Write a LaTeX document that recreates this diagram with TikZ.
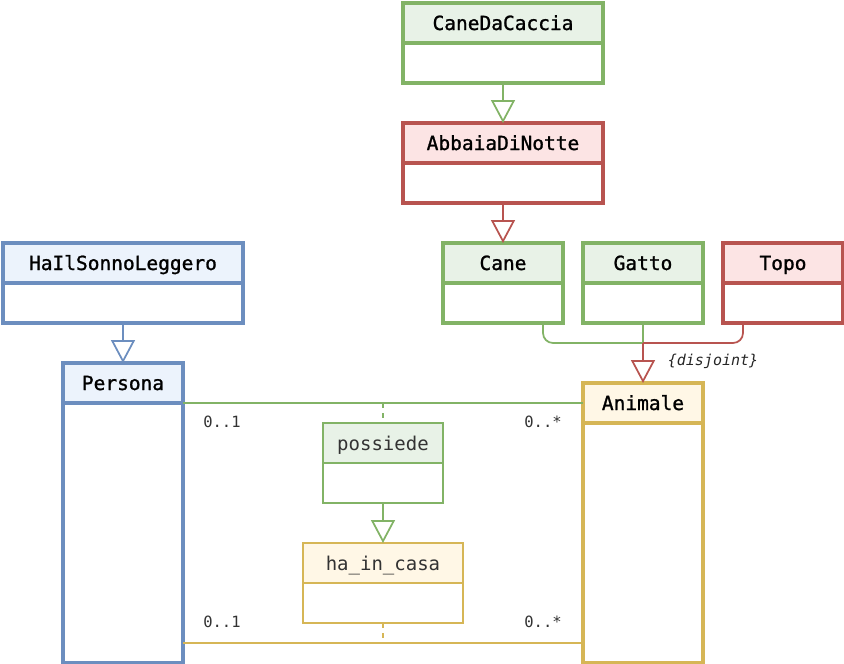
\documentclass[tikz,border=0pt]{standalone}
\usepackage{fontspec}
\setmonofont{DejaVu Sans Mono}
\newfontfamily\clsfont{DejaVu Sans Mono}[FakeBold=1.2]
\usepackage{tikz}
\usetikzlibrary{positioning,arrows.meta}

\definecolor{grn}{HTML}{82B366}
\definecolor{grnfill}{HTML}{E8F2E7}
\definecolor{rd}{HTML}{B85450}
\definecolor{rdfill}{HTML}{FCE4E4}
\definecolor{blu}{HTML}{6C8EBF}
\definecolor{blufill}{HTML}{ECF3FC}
\definecolor{ylw}{HTML}{D6B656}
\definecolor{ylwfill}{HTML}{FFF7E6}

\tikzset{
  cls/.style={draw=#1, fill=#1fill, line width=3.5pt, minimum height=40pt,
    inner sep=0pt, outer sep=0pt, text=black, text height=14pt, text depth=0pt,
    font=\clsfont\fontsize{19.5}{22}\selectfont},
  clsbody/.style={draw=#1, fill=white, line width=3.5pt, minimum height=40pt,
    inner sep=0pt, outer sep=0pt},
  rel/.style={cls=#1, line width=2pt, text=black!80,
    font=\ttfamily\fontsize{19}{22}\selectfont},
  relbody/.style={clsbody=#1, line width=2pt},
  link/.style={draw=#1, line width=1.75pt},
  isa/.style={link=#1, -{Triangle[open,length=23pt,width=24pt]}},
  mult/.style={font=\ttfamily\fontsize{15.5}{17}\selectfont, text=black!80}
}

\begin{document}
\begin{tikzpicture}[x=1pt,y=-1pt]
  \useasboundingbox (0,0) rectangle (844,664);

  % classes
  \node[cls=grn, minimum width=200pt] (caccia) at (503,23) {CaneDaCaccia};
  \node[clsbody=grn, minimum width=200pt, below=0pt of caccia] (cacciab) {};
  \node[cls=rd, minimum width=200pt] (abbaia) at (503,143) {AbbaiaDiNotte};
  \node[clsbody=rd, minimum width=200pt, below=0pt of abbaia] (abbaiab) {};
  \node[cls=blu, minimum width=240pt] (sonno) at (123,263) {HaIlSonnoLeggero};
  \node[clsbody=blu, minimum width=240pt, below=0pt of sonno] (sonnob) {};
  \node[cls=grn, minimum width=120pt] (cane) at (503,263) {Cane};
  \node[clsbody=grn, minimum width=120pt, below=0pt of cane] (caneb) {};
  \node[cls=grn, minimum width=120pt] (gatto) at (643,263) {Gatto};
  \node[clsbody=grn, minimum width=120pt, below=0pt of gatto] (gattob) {};
  \node[cls=rd, minimum width=120pt] (topo) at (783,263) {Topo};
  \node[clsbody=rd, minimum width=120pt, below=0pt of topo] (topob) {};
  \node[cls=blu, minimum width=120pt] (persona) at (123,383) {Persona};
  \node[clsbody=blu, minimum width=120pt, minimum height=260pt, below=0pt of persona] (personab) {};
  \node[cls=ylw, minimum width=120pt] (animale) at (643,403) {Animale};
  \node[clsbody=ylw, minimum width=120pt, minimum height=240pt, below=0pt of animale] (animaleb) {};

  % association classes
  \node[rel=grn, minimum width=120pt] (possiede) at (383,443) {possiede};
  \node[relbody=grn, minimum width=120pt, below=0pt of possiede] (possiedeb) {};
  \node[rel=ylw, minimum width=160pt] (hacasa) at (383,563) {ha\_in\_casa};
  \node[relbody=ylw, minimum width=160pt, below=0pt of hacasa] (hacasab) {};

  % generalisations
  \draw[isa=grn] (cacciab.south) -- (abbaia.north);
  \draw[isa=rd] (abbaiab.south) -- (cane.north);
  \draw[isa=blu] (sonnob.south) -- (persona.north);
  \draw[isa=grn] (possiedeb.south) -- (hacasa.north);

  \coordinate (join) at (643,343);
  \draw[link=grn, rounded corners=10pt] ([xshift=40pt]caneb.south) |- (join);
  \draw[link=grn] (gattob.south) -- (join);
  \draw[link=rd, rounded corners=10pt] ([xshift=-40pt]topob.south) |- (join);
  \draw[isa=rd] (join) -- (animale.north);
  \node[mult, font=\ttfamily\itshape\fontsize{15}{17}\selectfont, text=black!85] (disj) at (713,361) {\{disjoint\}};

  % associations
  \coordinate (uprel) at (383,403);
  \coordinate (lowrel) at (383,643);
  \draw[link=grn] (persona.south east) -- (animale.west);
  \draw[link=grn, dash pattern=on 5pt off 5pt] (uprel) -- (possiede.north);
  \draw[link=ylw] (lowrel -| personab.east) -- (lowrel -| animaleb.west);
  \draw[link=ylw, dash pattern=on 5pt off 5pt] (hacasab.south) -- (lowrel);

  \node[mult] (m1) at (222,422) {0..1};
  \node[mult] (m2) at (543,422) {0..*};
  \node[mult] (m3) at (222,622) {0..1};
  \node[mult] (m4) at (543,622) {0..*};
\end{tikzpicture}
\end{document}
